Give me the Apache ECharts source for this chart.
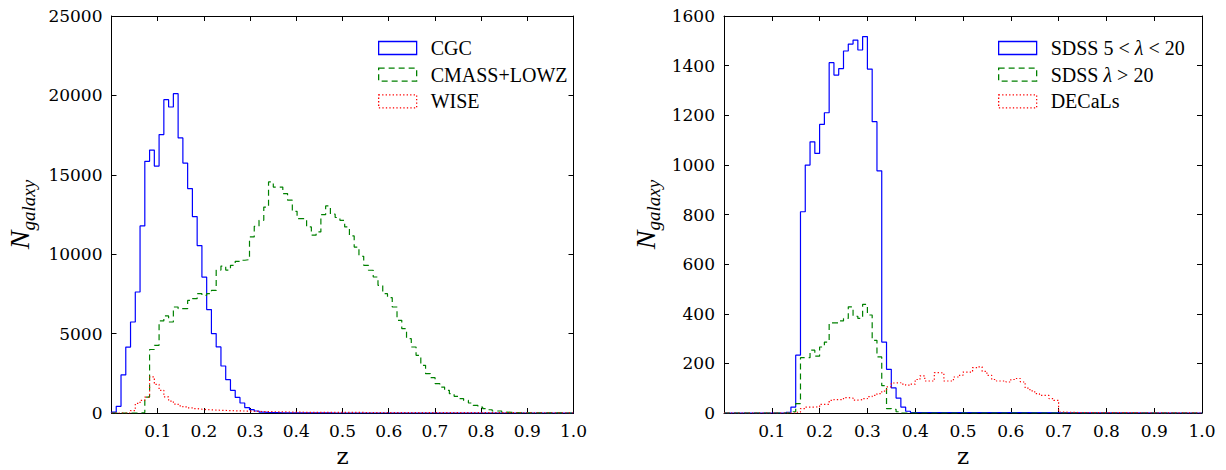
<!DOCTYPE html>
<html>
<head>
<meta charset="utf-8">
<title>Galaxy redshift distributions</title>
<script src="https://cdn.jsdelivr.net/npm/echarts@6/dist/echarts.min.js"></script>
<style>
  html, body { margin: 0; padding: 0; background: #ffffff; }
  #chart { width: 1226px; height: 470px; }
</style>
</head>
<body>
<div id="chart"></div>
<script>
// ---------------- data ----------------
// Axis ticks
const zTicks = [0.0, 0.1, 0.2, 0.3, 0.4, 0.5, 0.6, 0.7, 0.8, 0.9, 1.0];
const leftCountTicks = [0, 5000, 10000, 15000, 20000, 25000];
const rightCountTicks = [0, 200, 400, 600, 800, 1000, 1200, 1400, 1600];

// Left panel: histogram bins (redshift), first counted bin index per sample
const leftBinStart = 0.0;
const leftBinWidth = 0.0103;

const cgcFirstBin = 0;
const cgcCounts = [
  60, 420, 2400, 4150, 5730, 7620, 11780, 15850, 16560, 15550,
  17530, 19730, 19270, 20110, 17320, 15740, 14130, 12370, 10540, 8560,
  6510, 5000, 4160, 2960, 2100, 1430, 980, 630, 340, 210,
  125, 60, 40, 25, 20, 15, 12, 10, 8, 6,
  5, 4, 3, 3, 2, 2, 1, 1
];

const cmassFirstBin = 6;
const cmassCounts = [
  30, 1000, 4000, 4260, 5800, 6110, 5730, 6675, 6570, 6570,
  7090, 7200, 7515, 7410, 7515, 7720, 9000, 9250, 9000, 9300,
  9550, 9620, 9660, 11085, 11757, 12135, 12970, 14550, 14230, 14230,
  13815, 13400, 12700, 12240, 12240, 11715, 11200, 11400, 12490, 13040,
  12520, 12310, 12135, 11715, 11150, 10450, 9870, 9300, 8990, 8565,
  8040, 7515, 7260, 6675, 5835, 5310, 4680, 4155, 3630, 3000,
  2475, 2225, 1845, 1635, 1425, 1215, 1050, 900, 795, 630,
  480, 375, 270, 205, 125, 125, 60, 40, 20, 15,
  10, 10, 8, 6, 5, 4, 3, 2, 2, 1, 1
];

const wiseFirstBin = 4;
const wiseCounts = [
  150, 600, 800, 1000, 2270, 1800, 1430, 1010, 750, 560,
  450, 380, 320, 275, 240, 215, 200, 185, 170, 160,
  150, 140, 130, 125, 120, 110, 100, 90, 85, 80,
  75, 70, 65, 60, 55, 50, 45, 42, 40, 40,
  38, 39, 37, 36, 37, 35, 34, 35, 33, 32,
  33, 31, 30, 31, 29, 28, 29, 27, 27, 26,
  26, 25, 25, 24, 24, 23, 24, 22, 22, 21,
  22, 21, 20, 20, 21, 19, 19, 18, 19, 18,
  17, 17, 16, 17, 16, 15, 15, 15, 14, 14, 14, 13, 13
];

// Right panel: histogram bins (redshift)
const rightBinStart = 0.0;
const rightBinWidth = 0.01;

const sdssLowFirstBin = 13;
const sdssLowCounts = [
  3, 24, 233, 811, 999, 1093, 1046, 1163, 1210, 1412,
  1362, 1388, 1459, 1487, 1503, 1463, 1517, 1386, 1174, 976,
  286, 176, 101, 60, 24, 7, 2
];

const sdssHighFirstBin = 14;
const sdssHighCounts = [
  5, 38, 223, 223, 253, 229, 266, 286, 363, 363,
  371, 381, 428, 390, 381, 438, 395, 293, 226, 110,
  18, 15, 5
];

const decalsFirstBin = 15;
const decalsCounts = [
  3, 18, 24, 24, 25, 35, 35, 51, 54, 54,
  62, 60, 52, 54, 58, 66, 71, 78, 88, 105,
  121, 122, 116, 112, 116, 135, 150, 129, 129, 163,
  161, 129, 129, 145, 152, 165, 165, 183, 186, 168,
  152, 135, 129, 129, 125, 135, 139, 125, 100, 89,
  78, 71, 71, 58, 51, 4, 3, 3, 2, 2, 2
];

const leftNames = ['CGC', 'CMASS+LOWZ', 'WISE'];
const rightNames = ['SDSS 5<λ<20', 'SDSS λ>20', 'DECaLs'];

// ---------------- helpers ----------------
// Step outline of a histogram (matplotlib histtype="step"), running along zero
// outside the populated bins so the trace spans the full redshift range.
function stepOutline(binStart, binWidth, firstBin, counts, zMin, zMax) {
  const edge = k => +(binStart + k * binWidth).toFixed(6);
  const pts = [[zMin, 0], [edge(firstBin), 0]];
  counts.forEach((c, i) => {
    pts.push([edge(firstBin + i), c]);
    pts.push([edge(firstBin + i + 1), c]);
  });
  pts.push([edge(firstBin + counts.length), 0]);
  pts.push([zMax, 0]);
  return pts;
}

const BLUE = '#0000ff', GREEN = '#008000', RED = '#ff0000';
const SERIF = 'DejaVu Serif';
const LEGEND_FONT = 'Liberation Serif';
const DASH = [6, 4];
const DOT = [1.3, 2.2];

function xAxes(grid) {
  const base = {
    gridIndex: grid, type: 'value',
    min: zTicks[0], max: zTicks[zTicks.length - 1],
    interval: +(zTicks[1] - zTicks[0]).toFixed(2),
    splitLine: { show: false },
    axisLine: { show: true, onZero: false, lineStyle: { color: '#000', width: 1 } },
    axisTick: { show: true, inside: true, length: 5, lineStyle: { color: '#000', width: 1 } }
  };
  return [
    Object.assign({}, base, {
      position: 'bottom',
      axisLabel: {
        show: true, color: '#000', fontFamily: SERIF, fontSize: 17, margin: 9,
        formatter: v => (Math.abs(v) < 1e-9 ? '' : v.toFixed(1))
      },
      name: 'z', nameLocation: 'middle', nameGap: 34,
      nameTextStyle: { color: '#000', fontFamily: SERIF, fontSize: 23, lineHeight: 18 }
    }),
    Object.assign({}, base, { position: 'top', axisLabel: { show: false } })
  ];
}

function yAxes(grid, ticks, gap) {
  const base = {
    gridIndex: grid, type: 'value',
    min: ticks[0], max: ticks[ticks.length - 1], interval: ticks[1] - ticks[0],
    splitLine: { show: false },
    axisLine: { show: true, onZero: false, lineStyle: { color: '#000', width: 1 } },
    axisTick: { show: true, inside: true, length: 5, lineStyle: { color: '#000', width: 1 } }
  };
  return [
    Object.assign({}, base, {
      position: 'left',
      axisLabel: {
        show: true, color: '#000', fontFamily: SERIF, fontSize: 17, margin: 9,
        formatter: v => String(Math.round(v))
      },
      name: '{n|N}{s|galaxy}', nameLocation: 'middle', nameRotate: 90, nameGap: gap,
      nameTextStyle: {
        rich: {
          n: { fontFamily: LEGEND_FONT, fontStyle: 'italic', fontSize: 28, color: '#000', lineHeight: 36, verticalAlign: 'middle' },
          s: { fontFamily: LEGEND_FONT, fontStyle: 'italic', fontSize: 19, color: '#000', lineHeight: 36, verticalAlign: 'bottom' }
        }
      }
    }),
    Object.assign({}, base, { position: 'right', axisLabel: { show: false } })
  ];
}

function histSeries(name, xi, yi, pts, color, dash, width) {
  return {
    type: 'line', name: name, xAxisIndex: xi, yAxisIndex: yi,
    data: pts, symbol: 'none', showSymbol: false, clip: true,
    lineStyle: { color: color, width: width, type: dash },
    itemStyle: { color: color },
    animation: false, silent: true
  };
}

function legendItem(name, color, dash) {
  return {
    name: name, icon: 'rect',
    itemStyle: { color: 'rgba(0,0,0,0)', borderColor: color, borderWidth: 1.3, borderType: dash }
  };
}

function legendBlock(left, items) {
  return {
    left: left, top: 33, orient: 'vertical', selectedMode: false,
    itemWidth: 38, itemHeight: 13, itemGap: 6.7,
    data: items,
    formatter: name => {
      if (name === 'SDSS 5<λ<20') return 'SDSS {m|5 < }{i|λ}{m| < 20}';
      if (name === 'SDSS λ>20') return 'SDSS {i|λ}{m| > 20}';
      return name;
    },
    textStyle: {
      fontFamily: LEGEND_FONT, fontSize: 20, color: '#000', lineHeight: 20, padding: [0, 0, 0, 9],
      rich: {
        m: { fontFamily: LEGEND_FONT, fontSize: 20, color: '#000' },
        i: { fontFamily: LEGEND_FONT, fontSize: 20, fontStyle: 'italic', color: '#000' }
      }
    }
  };
}

// ---------------- chart ----------------
const chart = echarts.init(document.getElementById('chart'), null, { renderer: 'svg' });

const zMin = zTicks[0], zMax = zTicks[zTicks.length - 1];

chart.setOption({
  animation: false,
  backgroundColor: '#ffffff',
  grid: [
    { left: 111.5, top: 16, width: 462, height: 397, containLabel: false, outerBoundsMode: 'none' },
    { left: 724, top: 16, width: 478, height: 397, containLabel: false, outerBoundsMode: 'none' }
  ],
  xAxis: [].concat(xAxes(0), xAxes(1)),
  yAxis: [].concat(yAxes(0, leftCountTicks, 74), yAxes(1, rightCountTicks, 61)),
  legend: [
    legendBlock(373, [
      legendItem(leftNames[0], BLUE, 'solid'),
      legendItem(leftNames[1], GREEN, DASH),
      legendItem(leftNames[2], RED, DOT)
    ]),
    legendBlock(993, [
      legendItem(rightNames[0], BLUE, 'solid'),
      legendItem(rightNames[1], GREEN, DASH),
      legendItem(rightNames[2], RED, DOT)
    ])
  ],
  series: [
    histSeries(leftNames[0], 0, 0, stepOutline(leftBinStart, leftBinWidth, cgcFirstBin, cgcCounts, zMin, zMax), BLUE, 'solid', 1.2),
    histSeries(leftNames[1], 0, 0, stepOutline(leftBinStart, leftBinWidth, cmassFirstBin, cmassCounts, zMin, zMax), GREEN, DASH, 1.2),
    histSeries(leftNames[2], 0, 0, stepOutline(leftBinStart, leftBinWidth, wiseFirstBin, wiseCounts, zMin, zMax), RED, DOT, 1.2),
    histSeries(rightNames[0], 2, 2, stepOutline(rightBinStart, rightBinWidth, sdssLowFirstBin, sdssLowCounts, zMin, zMax), BLUE, 'solid', 1.2),
    histSeries(rightNames[1], 2, 2, stepOutline(rightBinStart, rightBinWidth, sdssHighFirstBin, sdssHighCounts, zMin, zMax), GREEN, DASH, 1.2),
    histSeries(rightNames[2], 2, 2, stepOutline(rightBinStart, rightBinWidth, decalsFirstBin, decalsCounts, zMin, zMax), RED, DOT, 1.2)
  ]
});
</script>
</body>
</html>
